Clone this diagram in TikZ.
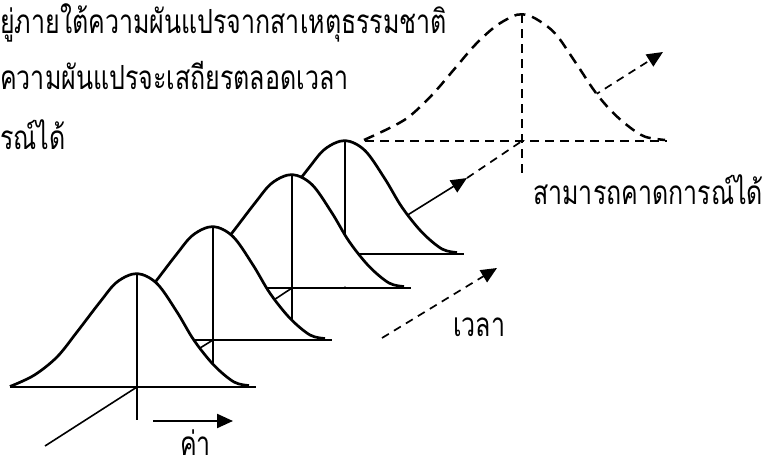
\documentclass[tikz,border=0pt]{standalone}
\usepackage{fontspec}
\usepackage{graphicx}
\newfontfamily\thaifont[Script=Thai]{Loma}
\usetikzlibrary{arrows.meta}
\newcommand\tallthai[1]{\scalebox{1}[1.33]{#1}}
\tikzset{
  outl/.style={line width=2.7pt, line join=round},
  vline/.style={line width=1.7pt},
  bline/.style={line width=2.1pt},
  axisline/.style={line width=1.6pt},
  dashoutl/.style={line width=2.5pt, dash pattern=on 11pt off 7pt},
  dashaxis/.style={line width=1.7pt, dash pattern=on 8pt off 6pt},
  tip/.style={-{Triangle[length=16pt,width=14pt]}},
  lbl/.style={font=\thaifont\fontsize{25}{30}\selectfont, inner sep=0pt, anchor=base west},
  solidbell/.pic={
    \fill[white] plot[smooth,tension=0.55] coordinates {(-127,-0.5) (-103,-11.7) (-80,-30) (-60,-55) (-37,-85) (-20,-105) (0,-113.4) (20,-103.4) (40,-75) (57,-46.7) (77,-21.7) (97,-5) (112,-1.5)} -- cycle;
    \draw[bline] (-127,0) -- (119,0);
    \draw[vline] (0,-113.4) -- (0,33);
    \draw[outl] plot[smooth,tension=0.55] coordinates {(-127,-0.5) (-103,-11.7) (-80,-30) (-60,-55) (-37,-85) (-20,-105) (0,-113.4) (20,-103.4) (40,-75) (57,-46.7) (77,-21.7) (97,-5) (112,-1.5)};
  },
  dashbell/.pic={
    \fill[white] plot[smooth,tension=0.55] coordinates {(-158,-1) (-133,-12.7) (-113,-24.3) (-90,-46) (-67,-72.7) (-47,-96) (-27,-114.3) (-10,-124.3) (0,-126.7) (13,-122.7) (33,-107.7) (53,-79.3) (73,-49.3) (90,-29.3) (107,-14.3) (123,-4.3) (143,-1)} -- cycle;
    \draw[dashoutl, line width=1.9pt, dash pattern=on 9pt off 6pt] (-157,0) -- (145,0);
    \draw[dashoutl, line width=1.9pt, dash pattern=on 9pt off 6pt] (0,-126.7) -- (0,34);
    \draw[dashoutl] plot[smooth,tension=0.55] coordinates {(-158,-1) (-133,-12.7) (-113,-24.3) (-90,-46) (-67,-72.7) (-47,-96) (-27,-114.3) (-10,-124.3) (0,-126.7) (13,-122.7) (33,-107.7) (53,-79.3) (73,-49.3) (90,-29.3) (107,-14.3) (123,-4.3) (143,-1)};
  }
}
\begin{document}
\begin{tikzpicture}[x=1pt,y=-1pt]
\useasboundingbox (0,0) rectangle (769,462);
% centres along the time axis
\coordinate (c1) at (137,387);
\coordinate (c2) at (213,340);
\coordinate (c3) at (292,288);
\coordinate (c4) at (345,254);
\coordinate (c5) at (522,141);
\coordinate (tipA) at (467,178);
\coordinate (tipB) at (663,52);
\coordinate (axstart) at (45,446);
% back: dashed forecast curve
\draw[dashaxis, tip] (c5) -- (tipB);
\pic at (c5) {dashbell};
\draw[dashaxis] (tipA) -- (c5);
% curve 4
\draw[axisline, tip] (c4) -- (tipA);
\pic at (c4) {solidbell};
% curve 3
\draw[axisline] (c3) -- (c4);
\pic at (c3) {solidbell};
% curve 2
\draw[axisline] (c2) -- (c3);
\pic at (c2) {solidbell};
% curve 1
\draw[axisline] (c1) -- (c2);
\pic at (c1) {solidbell};
\draw[axisline] (axstart) -- (c1);
% value arrow
\coordinate (va) at (153,421);
\coordinate (vb) at (233,421);
\draw[line width=2.3pt, tip] (va) -- (vb);
% time arrow
\coordinate (ta) at (382,338);
\coordinate (tb) at (497,268);
\draw[dashaxis, tip] (ta) -- (tb);
% labels
\node[lbl] (t1) at (0,34) {\tallthai{ยู่ภายใต้ความผันแปรจากสาเหตุธรรมชาติ}};
\node[lbl] (t2) at (0,90) {\tallthai{ความผันแปรจะเสถียรตลอดเวลา}};
\node[lbl] (t3) at (0,150) {\tallthai{รณ์ได้}};
\node[lbl] (pred) at (533,205) {\tallthai{สามารถคาดการณ์ได้}};
\node[lbl] (time) at (453,337) {\tallthai{เวลา}};
\node[lbl] (val) at (180,456) {\raisebox{0pt}[\height][0pt]{\tallthai{ค่า}}};
\end{tikzpicture}
\end{document}
